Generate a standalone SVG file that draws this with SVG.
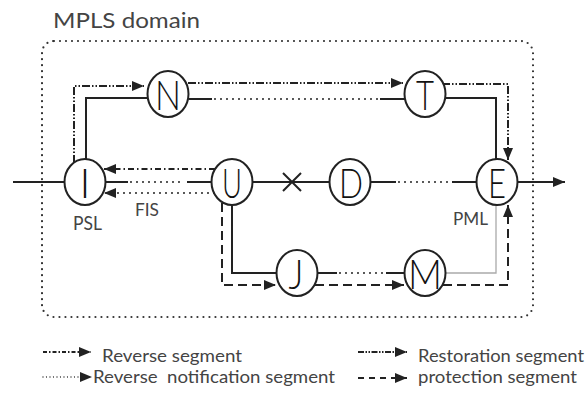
<svg xmlns="http://www.w3.org/2000/svg" width="588" height="401" viewBox="0 0 588 401">
<style>
.ln{fill:none;stroke:#222;stroke-width:2}
.dot{fill:none;stroke:#222;stroke-width:2;stroke-dasharray:0 6;stroke-linecap:round}
.rev{fill:none;stroke:#222;stroke-width:2;stroke-dasharray:6 3 1.5 3}
.rst{fill:none;stroke:#222;stroke-width:2;stroke-dasharray:8 2 1.5 2 1.5 2}
.prt{fill:none;stroke:#222;stroke-width:2;stroke-dasharray:9 5}
.gray{fill:none;stroke:#aaa;stroke-width:1.3}
.node ellipse{fill:#fff;stroke:#222;stroke-width:2}
.node text{font-family:Lato,"Liberation Sans",sans-serif;font-weight:300;font-size:42px;fill:#111;text-anchor:middle}
.lbl{font-family:Lato,"Liberation Sans",sans-serif;fill:#444}
</style>
<defs>
<marker id="ah" markerWidth="12" markerHeight="10" refX="12" refY="5" orient="auto" markerUnits="userSpaceOnUse"><path d="M0,0 L12,5 L0,10 z" fill="#222"/></marker>
</defs>
<rect x="42" y="41" width="491" height="276" rx="12" fill="none" stroke="#333" stroke-width="2.2" stroke-dasharray="0 6" stroke-linecap="round"/>
<text class="lbl" x="53" y="28" font-size="21" textLength="147" lengthAdjust="spacingAndGlyphs">MPLS domain</text>
<g id="connectors">
<path class="ln" d="M13,182 H64"/>
<path class="ln" d="M106,182 H128 M187,182 H211"/>
<path class="dot" d="M131,182 H185"/>
<path class="rev" d="M215,169 H104" marker-end="url(#ah)"/>
<path class="dot" d="M214,193 H104" marker-end="url(#ah)"/>
<path class="ln" d="M253,182 H329"/>
<path class="ln" d="M283,173 L301,191 M283,191 L301,173"/>
<path class="ln" d="M371,182 H396 M452,182 H476"/>
<path class="dot" d="M399,182 H450"/>
<path class="ln" d="M517,182 H565" marker-end="url(#ah)"/>
<path class="ln" d="M86,159 V98 H148"/>
<path class="rst" d="M74,163 V86 H144" marker-end="url(#ah)"/>
<path class="rst" d="M188,83 H403" marker-end="url(#ah)"/>
<path class="ln" d="M189,99 H212 M380,99 H405"/>
<path class="dot" d="M215,99 H378"/>
<path class="ln" d="M445,98 H496 V159"/>
<path class="rst" d="M442,84 H508 V160" marker-end="url(#ah)"/>
<path class="ln" d="M232,205 V273 H277"/>
<path class="prt" d="M222,203 V285 H276" marker-end="url(#ah)"/>
<path class="ln" d="M317,273 H337 M386,273 H404"/>
<path class="dot" d="M340,273 H384"/>
<path class="prt" d="M315,285 H404" marker-end="url(#ah)"/>
<path class="gray" d="M446,273 H496 V205"/>
<path class="prt" d="M443,285 H508 V205" marker-end="url(#ah)"/>
</g>
<g id="I" class="node"><ellipse cx="85" cy="182" rx="20.5" ry="23"/><text x="85" y="198">I</text></g>
<g id="U" class="node"><ellipse cx="232" cy="182" rx="20.5" ry="23"/><text x="232" y="198" textLength="20" lengthAdjust="spacingAndGlyphs">U</text></g>
<g id="D" class="node"><ellipse cx="350" cy="182" rx="20.5" ry="23"/><text x="351" y="198" textLength="24" lengthAdjust="spacingAndGlyphs">D</text></g>
<g id="E" class="node"><ellipse cx="497" cy="182" rx="20.5" ry="23"/><text x="497" y="198" textLength="18" lengthAdjust="spacingAndGlyphs">E</text></g>
<g id="N" class="node"><ellipse cx="168" cy="94" rx="20.5" ry="23"/><text x="168" y="110" textLength="26" lengthAdjust="spacingAndGlyphs">N</text></g>
<g id="T" class="node"><ellipse cx="425" cy="94" rx="20.5" ry="23"/><text x="425" y="110" textLength="18" lengthAdjust="spacingAndGlyphs">T</text></g>
<g id="J" class="node"><ellipse cx="297" cy="273" rx="20.5" ry="23"/><text x="296" y="289" textLength="15" lengthAdjust="spacingAndGlyphs">J</text></g>
<g id="M" class="node"><ellipse cx="425" cy="273" rx="20.5" ry="23"/><text x="425" y="289" textLength="34" lengthAdjust="spacingAndGlyphs">M</text></g>
<text class="lbl" x="73" y="230" font-size="19" textLength="29" lengthAdjust="spacingAndGlyphs">PSL</text>
<text class="lbl" x="135" y="216" font-size="18" textLength="24" lengthAdjust="spacingAndGlyphs">FIS</text>
<text class="lbl" x="453" y="225" font-size="18" textLength="35" lengthAdjust="spacingAndGlyphs">PML</text>
<g id="legend">
<path class="rev" d="M43,352 H91" marker-end="url(#ah)" style="stroke-dasharray:4 2 1.5 2"/>
<text class="lbl" x="102" y="362" font-size="18" textLength="140" lengthAdjust="spacingAndGlyphs">Reverse segment</text>
<path class="dot" d="M43,377 H92" marker-end="url(#ah)" style="stroke-width:1.3;stroke-dasharray:0 3.5"/>
<text class="lbl" x="93" y="383" font-size="18" textLength="242" lengthAdjust="spacingAndGlyphs" xml:space="preserve">Reverse  notification segment</text>
<path class="rst" d="M358,352 H407" marker-end="url(#ah)" style="stroke-dasharray:6 1.5 1.5 1.5 1.5 1.5"/>
<text class="lbl" x="418" y="362" font-size="18" textLength="166" lengthAdjust="spacingAndGlyphs">Restoration segment</text>
<path class="prt" d="M358,378 H407" marker-end="url(#ah)" style="stroke-dasharray:6 5"/>
<text class="lbl" x="418" y="383" font-size="18" textLength="159" lengthAdjust="spacingAndGlyphs">protection segment</text>
</g>
</svg>
